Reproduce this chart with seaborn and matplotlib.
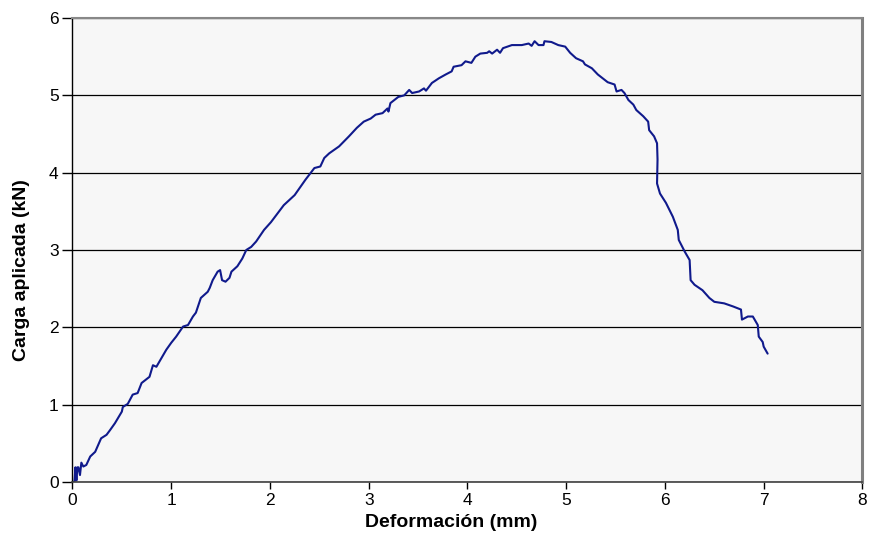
import matplotlib
matplotlib.use("Agg")
import matplotlib.pyplot as plt
import seaborn as sns
import pandas as pd

# Curva carga-deformación
deformacion = [0.0, 0.02, 0.03, 0.04, 0.05, 0.06, 0.076, 0.09, 0.11, 0.14, 0.18, 0.23, 0.29, 0.345, 0.38,
               0.43, 0.5, 0.51, 0.56, 0.61, 0.66, 0.70, 0.78, 0.815, 0.85, 0.95, 1.0, 1.05, 1.12,
               1.17, 1.22, 1.25, 1.30, 1.37, 1.39, 1.42, 1.47, 1.495, 1.515, 1.55, 1.59, 1.61, 1.67,
               1.72, 1.76, 1.81, 1.86, 1.94, 2.01, 2.14, 2.25, 2.36, 2.45, 2.51, 2.55, 2.60, 2.70,
               2.80, 2.88, 2.95, 3.02, 3.07, 3.14, 3.19, 3.20, 3.22, 3.30, 3.36, 3.41, 3.44, 3.51,
               3.56, 3.58, 3.64, 3.71, 3.78, 3.84, 3.86, 3.94, 3.98, 4.04, 4.08, 4.13, 4.20, 4.22,
               4.25, 4.30, 4.33, 4.36, 4.45, 4.55, 4.62, 4.65, 4.68, 4.72, 4.77, 4.78, 4.85, 4.92,
               4.99, 5.04, 5.10, 5.17, 5.19, 5.26, 5.32, 5.37, 5.42, 5.49, 5.51, 5.56, 5.59, 5.63,
               5.68, 5.71, 5.78, 5.83, 5.84, 5.89, 5.92, 5.925, 5.92, 5.95, 6.01, 6.08, 6.13, 6.14,
               6.20, 6.25, 6.26, 6.30, 6.38, 6.45, 6.50, 6.60, 6.69, 6.77, 6.78, 6.84, 6.89, 6.94,
               6.95, 6.99, 7.00, 7.04]
carga = [0.0, 0.0, 0.19, 0.02, 0.19, 0.19, 0.09, 0.25, 0.2, 0.22, 0.33, 0.39, 0.565, 0.61, 0.67,
         0.76, 0.91, 0.97, 1.01, 1.13, 1.15, 1.28, 1.36, 1.51, 1.49, 1.71, 1.80, 1.88, 2.01,
         2.03, 2.14, 2.19, 2.38, 2.46, 2.51, 2.61, 2.72, 2.74, 2.61, 2.59, 2.64, 2.72, 2.79,
         2.89, 3.0, 3.04, 3.11, 3.26, 3.36, 3.58, 3.71, 3.91, 4.06, 4.08, 4.19, 4.25, 4.34,
         4.47, 4.58, 4.66, 4.70, 4.75, 4.77, 4.83, 4.79, 4.90, 4.98, 5.0, 5.07, 5.03, 5.05,
         5.09, 5.06, 5.16, 5.22, 5.27, 5.31, 5.37, 5.39, 5.44, 5.42, 5.50, 5.54, 5.55, 5.57,
         5.54, 5.59, 5.55, 5.61, 5.65, 5.65, 5.67, 5.64, 5.70, 5.65, 5.65, 5.70, 5.69, 5.65,
         5.63, 5.55, 5.48, 5.44, 5.40, 5.35, 5.27, 5.22, 5.17, 5.14, 5.05, 5.07, 5.03, 4.94,
         4.88, 4.81, 4.73, 4.66, 4.55, 4.47, 4.38, 4.17, 3.86, 3.73, 3.61, 3.43, 3.26, 3.13,
         2.98, 2.87, 2.61, 2.55, 2.48, 2.38, 2.33, 2.31, 2.27, 2.23, 2.10, 2.14, 2.14, 2.03,
         1.88, 1.81, 1.75, 1.66]

df = pd.DataFrame({"Deformación (mm)": deformacion, "Carga aplicada (kN)": carga})

sns.set_style("white")
plt.rcParams["font.family"] = ["Liberation Sans", "DejaVu Sans"]
plt.rcParams["text.color"] = "black"
plt.rcParams["axes.labelcolor"] = "black"
plt.rcParams["xtick.color"] = "black"
plt.rcParams["ytick.color"] = "black"

fig = plt.figure(figsize=(8.7, 5.33), dpi=100)
ax = fig.add_axes([0.0833, 0.0957, 0.908, 0.8705])
ax.set_facecolor("#F7F7F7")

sns.lineplot(data=df, x="Deformación (mm)", y="Carga aplicada (kN)", sort=False,
             estimator=None, color="#101A8C", linewidth=1.5, ax=ax)

ax.set_xlim(0, 8)
ax.set_ylim(0, 6)
ax.set_xticks(range(0, 9))
ax.set_yticks(range(0, 7))
ax.yaxis.grid(True, color="black", linewidth=0.9)
ax.set_axisbelow(True)

ax.spines["left"].set_color("black")
ax.spines["left"].set_linewidth(1.0)
ax.spines["bottom"].set_color("#404040")
ax.spines["bottom"].set_linewidth(1.2)
ax.spines["top"].set_color("#888888")
ax.spines["top"].set_linewidth(1.5)
ax.spines["right"].set_color("#808080")
ax.spines["right"].set_linewidth(2.2)

ax.tick_params(axis="y", direction="out", length=7, width=1, labelsize=12.5, pad=3, left=True)
ax.tick_params(axis="x", direction="out", length=5, width=1, labelsize=12.5, pad=3, bottom=True)
ax.set_xlabel("Deformación (mm)", fontsize=14, fontweight="bold")
ax.set_ylabel("Carga aplicada (kN)", fontsize=14, fontweight="bold")
# etiquetas algo desplazadas como en el original
ax.xaxis.set_label_coords(0.48, -0.068)
ax.yaxis.set_label_coords(-0.054, 0.457)

fig.savefig("out.png", dpi=100)
